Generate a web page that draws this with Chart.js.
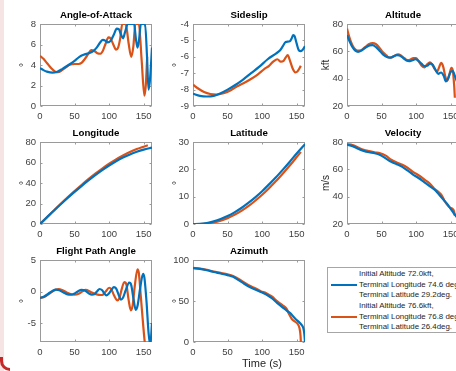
<!DOCTYPE html>
<html lang="en">
<head>
  <meta charset="UTF-8" />
  <title>Trajectory comparison</title>
  <script src="https://cdn.jsdelivr.net/npm/chart.js"></script>
  <style>
    html, body {
      margin: 0;
      padding: 0;
      background: #fff;
      overflow: hidden;
      width: 456px;
      height: 371px;
    }
    body { position: relative; font-family: "Liberation Sans", Arial, sans-serif; }
    canvas { position: absolute; }
    .frame {
      position: absolute; left: 0; top: 0; width: 4px; height: 100%;
      background: #f6e4e4;
    }
    .corner {
      position: absolute; left: 0; bottom: 0; width: 10px; height: 14px;
      border-left: 3px solid #c62828; border-bottom: 3px solid #c62828;
      border-bottom-left-radius: 10px; box-sizing: border-box;
    }
    .legend {
      position: absolute; left: 327px; top: 267px; width: 150px; height: 66px;
      border: 1px solid #a6a6a6; box-sizing: border-box; background: #fff;
      font-size: 7.9px; color: #262626;
    }
    .legend .row { position: absolute; left: 31px; white-space: nowrap; line-height: 10px; }
    .legend .swatch { position: absolute; left: 3px; width: 26px; height: 2px; }
    .xlabel {
      position: absolute; top: 357px; left: 262px; transform: translateX(-50%);
      font-size: 11px; color: #262626; white-space: nowrap;
    }
  </style>
</head>
<body>
  <div class="frame"></div>
  <div class="corner"></div>

  <canvas id="aoa"></canvas>
  <canvas id="beta"></canvas>
  <canvas id="alt"></canvas>
  <canvas id="lon"></canvas>
  <canvas id="lat"></canvas>
  <canvas id="vel"></canvas>
  <canvas id="fpa"></canvas>
  <canvas id="azi"></canvas>

  <div class="xlabel">Time (s)</div>
  <div class="legend" id="legend"></div>

  <script>
    // series names (legend text)
    const nameA = ['Initial Altitude 72.0kft,', 'Terminal Longitude 74.6 deg', 'Terminal Latitude 29.2deg.'];
    const nameB = ['Initial Altitude 76.6kft,', 'Terminal Longitude 76.8 deg', 'Terminal Latitude 26.4deg.'];

    const xTicks = [0, 50, 100, 150];
    const xMax = 162;

    // Angle-of-Attack (deg)
    const aoaTA = [0, 5, 10, 18, 25, 32, 40, 50, 57, 63, 70, 76, 82, 87, 91, 95, 98, 102, 107, 111, 114, 117, 120, 123, 127, 136, 139, 141, 143, 146, 152, 155, 157, 159, 162];
    const aoaVA = [3.7, 3.5, 3.35, 3.25, 3.35, 3.6, 3.95, 4.4, 4.8, 5.0, 5.15, 5.3, 5.7, 6.2, 6.45, 6.35, 6.2, 6.35, 7.0, 7.55, 7.5, 7.0, 6.6, 7.2, 8, 8, 6.4, 5.7, 6.3, 8, 8, 4.5, 1.6, 2.5, 5.7];
    const aoaTB = [0, 5, 10, 16, 22, 26, 32, 38, 44, 50, 56, 60, 65, 70, 74, 78, 83, 87, 91, 95, 99, 102, 106, 110, 113, 116, 119, 124, 128, 132, 135, 138, 143, 147, 151, 153, 155];
    const aoaVB = [4.9, 4.6, 4.2, 3.7, 3.35, 3.3, 3.5, 3.8, 4.05, 4.1, 4.1, 4.2, 4.6, 5.1, 5.45, 5.4, 5.15, 5.1, 5.4, 6.1, 6.7, 6.6, 6.0, 5.5, 5.7, 6.6, 8, 8, 6.2, 4.8, 5.8, 8, 8, 4.5, 1.0, 2.0, 4.8];
    const aoaTicks = [0, 2, 4, 6, 8];

    // Sideslip (deg)
    const betaTA = [0, 10, 20, 30, 40, 50, 60, 72, 84, 96, 108, 120, 126, 130, 134, 140, 143, 145, 147, 150, 153, 156, 159, 162];
    const betaVA = [-8.25, -8.38, -8.42, -8.38, -8.22, -8.0, -7.75, -7.4, -7.0, -6.6, -6.15, -5.8, -5.6, -5.35, -5.1, -5.05, -4.85, -4.68, -4.75, -5.2, -5.6, -5.65, -5.55, -5.35];
    const betaTB = [0, 8, 16, 25, 34, 44, 54, 64, 72, 82, 93, 103, 110, 116, 122, 127, 131, 134, 137, 140, 144, 148, 151, 154, 156];
    const betaVB = [-7.7, -7.95, -8.15, -8.27, -8.3, -8.22, -8.05, -7.8, -7.63, -7.4, -7.1, -6.75, -6.55, -6.3, -6.15, -6.3, -6.25, -6.05, -5.9, -6.2, -6.7, -6.95, -6.9, -6.7, -6.55];
    const betaTicks = [-9, -8, -7, -6, -5, -4];

    // Altitude (kft)
    const altTA = [0, 4, 8, 12, 16, 21, 27, 33, 37, 42, 47, 52, 57, 62, 67, 72, 76, 81, 86, 90, 94, 99, 103, 108, 112, 116, 120, 124, 128, 132, 136, 140, 143, 146, 150, 153, 156, 159, 162];
    const altVA = [72, 67, 63, 60.5, 59.6, 60.5, 62.8, 64.4, 64.5, 63, 60.5, 57.8, 56, 55.4, 56.3, 57.2, 57, 55.2, 53.3, 52.8, 53.4, 54.2, 53.2, 50.8, 49.2, 49.4, 51, 50.2, 46.5, 43.5, 44.5, 42, 38, 40, 45, 45.5, 42, 38, 36];
    const altTB = [0, 3, 6, 10, 15, 20, 26, 32, 37, 42, 47, 52, 57, 61, 65, 70, 74, 78, 83, 87, 91, 96, 100, 104, 108, 112, 116, 120, 123, 127, 130, 133, 136, 139, 142, 145, 148, 151, 153, 155, 156];
    const altVB = [76.6, 71, 66.5, 62.5, 60.6, 60.8, 63, 65.3, 66, 65.2, 62.5, 59.3, 57, 55.5, 55.6, 57.2, 57.8, 57, 55, 53.6, 53.8, 55, 55, 52.5, 49.5, 48.2, 50.5, 52, 50.5, 47, 45, 48, 51.5, 49, 42, 38.5, 43, 48, 46, 35, 26];
    const altTicks = [20, 40, 60, 80];

    // Longitude (deg)
    const lonTA = [0, 10, 20, 30, 40, 50, 60, 70, 80, 90, 100, 110, 120, 130, 140, 150, 162];
    const lonVA = [0, 6.5, 13, 19.3, 25.4, 31.3, 37, 42.5, 47.7, 52.6, 57.1, 61.2, 64.8, 67.9, 70.5, 72.6, 74.6];
    const lonTB = [0, 10, 20, 30, 40, 50, 60, 70, 80, 90, 100, 110, 120, 130, 140, 150, 156];
    const lonVB = [0, 6.6, 13.2, 19.7, 26, 32.1, 38, 43.7, 49.1, 54.1, 58.8, 63.1, 66.9, 70.3, 73.1, 75.4, 76.8];
    const lonTicks = [0, 20, 40, 60, 80];

    // Latitude (deg)
    const latTA = [0, 10, 20, 30, 40, 50, 60, 70, 80, 90, 100, 110, 120, 130, 140, 150, 162];
    const latVA = [0, 0.05, 0.35, 0.95, 1.8, 2.9, 4.25, 5.85, 7.7, 9.75, 12.0, 14.5, 17.1, 19.9, 22.8, 25.8, 29.2];
    const latTB = [0, 10, 20, 30, 40, 50, 60, 70, 80, 90, 100, 110, 120, 130, 140, 150, 156];
    const latVB = [0, 0, 0.2, 0.6, 1.25, 2.15, 3.35, 4.8, 6.5, 8.5, 10.7, 13.1, 15.7, 18.5, 21.4, 24.5, 26.4];
    const latTicks = [0, 10, 20, 30];

    // Velocity (m/s)
    const velTA = [0, 8, 16, 24, 32, 40, 48, 56, 64, 72, 80, 88, 96, 104, 112, 120, 128, 134, 140, 146, 150, 155, 158, 162];
    const velVA = [78, 77, 75, 73.5, 72.5, 71.8, 70.5, 68, 65.5, 63.8, 61.8, 59, 56, 53.5, 50.5, 47.5, 44.5, 41, 37.5, 34, 31, 27.5, 25.5, 23.5];
    const velTB = [0, 8, 16, 24, 32, 40, 48, 56, 64, 72, 80, 88, 96, 104, 112, 120, 126, 132, 137, 141, 145, 149, 152, 155, 156];
    const velVB = [78.5, 77.8, 76, 74.3, 73.3, 72.5, 71.8, 70, 67, 65, 63.3, 61, 58, 55.5, 52.5, 49.5, 46, 43.5, 41, 37, 34, 32, 31.3, 29, 26];
    const velTicks = [20, 40, 60, 80];

    // Flight Path Angle (deg)
    const fpaTA = [0, 6, 12, 18, 23, 28, 34, 40, 45, 50, 55, 60, 65, 70, 75, 79, 83, 86, 90, 93, 96, 99, 103, 107, 110, 114, 117, 120, 124, 129, 132, 135, 138.5, 141, 145, 149, 151, 154, 157, 159.5, 162];
    const fpaVA = [-1, -0.8, -0.35, 0.1, 0.3, 0.2, -0.15, -0.45, -0.5, -0.3, 0.05, 0.25, 0.15, -0.25, -0.5, -0.4, 0.1, 0.4, 0.2, -0.3, -0.6, -0.4, 0.2, 0.7, 0.5, -0.6, -1.3, -1.0, 0.2, 1.4, 1.0, -1.0, -2.9, -2.3, 0.6, 2.8, 2.2, -1.5, -6.5, -8.5, -5];
    const fpaTB = [0, 6, 12, 18, 23, 27, 32, 38, 44, 50, 56, 61, 66, 74, 82, 88, 91, 95, 100, 103, 107, 112, 115, 118, 122, 125, 128, 131.5, 134, 137, 141, 143, 146, 149, 152, 155];
    const fpaVB = [-1, -0.85, -0.45, 0, 0.3, 0.4, 0.25, -0.1, -0.4, -0.5, -0.35, 0, 0.25, -0.1, -0.45, -0.55, -0.5, 0, 0.6, 0.4, -0.6, -1.4, -1.0, 0.3, 1.5, 1.1, -1.2, -3.0, -2.2, 0.8, 3.5, 2.9, -1.0, -5, -8.5, -10];
    const fpaTicks = [-5, 0, 5];

    // Azimuth (deg)
    const aziTA = [0, 10, 20, 30, 40, 50, 58, 66, 74, 82, 90, 98, 106, 114, 122, 130, 136, 141, 145, 149, 153, 157, 159.5, 161, 162];
    const aziVA = [90, 89.2, 87.5, 85.3, 83.5, 81.5, 79.5, 75.5, 71, 67, 64, 61, 58, 53.5, 47.5, 42, 38, 35, 31, 27.5, 24.5, 21, 17, 10, 0];
    const aziTB = [0, 10, 20, 30, 40, 50, 58, 66, 74, 82, 90, 98, 106, 114, 122, 130, 135, 139, 143, 147, 151, 154, 155.5, 156];
    const aziVB = [90.3, 89.5, 88, 86, 84.3, 82.5, 80.5, 77, 72.5, 68.5, 65.5, 62, 59.5, 55.5, 49.5, 44.5, 41, 34, 28, 25, 22.5, 17, 8, 0];
    const aziTicks = [0, 50, 100];

    const BLUE = '#0072BD';
    const ORANGE = '#D95319';
    const FONT = '"Liberation Sans", Arial, Helvetica, sans-serif';

    const colLeft = [40, 193, 347];
    const rowTop = [24, 142, 260];
    const plotW = 113, plotH = 82;
    const yBox = 40, xBox = 30, titleBox = 15, padRight = 4;

    function pts(t, v) {
      return t.map((tt, i) => ({ x: tt, y: v[i] }));
    }

    // axes box + inward tick marks, drawn under the lines
    const boxPlugin = {
      id: 'matlabBox',
      beforeDatasetsDraw(chart) {
        const { ctx, chartArea: a, scales } = chart;
        const l = Math.round(a.left) + 0.5, r = Math.round(a.right) - 0.5;
        const t = Math.round(a.top) + 0.5, b = Math.round(a.bottom) - 0.5;
        ctx.save();
        ctx.strokeStyle = '#9a9a9a';
        ctx.lineWidth = 1;
        ctx.strokeRect(l, t, r - l, b - t);
        ctx.beginPath();
        scales.x.ticks.forEach(tk => {
          const px = Math.round(scales.x.getPixelForValue(tk.value)) + 0.5;
          ctx.moveTo(px, b); ctx.lineTo(px, b - 2);
          ctx.moveTo(px, t); ctx.lineTo(px, t + 2);
        });
        scales.y.ticks.forEach(tk => {
          const py = Math.round(scales.y.getPixelForValue(tk.value)) + 0.5;
          ctx.moveTo(l, py); ctx.lineTo(l + 2, py);
          ctx.moveTo(r, py); ctx.lineTo(r - 2, py);
        });
        ctx.stroke();
        ctx.restore();
      }
    };

    function makeChart(id, col, row, title, yLabel, yMin, yMax, yTicks, tA, vA, tB, vB) {
      const el = document.getElementById(id);
      const W = yBox + plotW + padRight;
      const H = titleBox + plotH + xBox;
      el.width = W;
      el.height = H;
      el.style.left = (colLeft[col] - yBox) + 'px';
      el.style.top = (rowTop[row] - titleBox) + 'px';

      const line = (data, color) => ({
        data: data,
        borderColor: color,
        borderWidth: 2.2,
        pointRadius: 0,
        fill: false,
        cubicInterpolationMode: 'monotone',
        clip: 0
      });

      return new Chart(el, {
        type: 'line',
        data: {
          datasets: [line(pts(tA, vA), BLUE), line(pts(tB, vB), ORANGE)]
        },
        options: {
          responsive: false,
          animation: false,
          layout: { padding: { left: 0, right: padRight, top: 0, bottom: 0 } },
          plugins: {
            legend: { display: false },
            tooltip: { enabled: false }
          },
          scales: {
            x: {
              type: 'linear',
              min: 0,
              max: xMax,
              grid: { display: false, drawTicks: false },
              border: { display: false },
              ticks: { color: '#404040', font: { family: FONT, size: 9.5 }, padding: 5, maxRotation: 0 },
              afterBuildTicks: s => { s.ticks = xTicks.map(v => ({ value: v })); },
              afterFit: s => { s.height = xBox; }
            },
            // top axis only carries the subplot title, centred over the plot area
            top: {
              type: 'linear',
              position: 'top',
              min: 0,
              max: xMax,
              grid: { display: false, drawTicks: false },
              border: { display: false },
              ticks: { display: false },
              afterFit: s => { s.height = titleBox; },
              title: {
                display: true,
                text: title,
                color: '#000',
                font: { family: FONT, size: 9.7, weight: 'bold', lineHeight: '12px' },
                padding: { top: 0, bottom: 0 }
              }
            },
            y: {
              type: 'linear',
              min: yMin,
              max: yMax,
              grid: { display: false, drawTicks: false },
              border: { display: false },
              ticks: { color: '#404040', font: { family: FONT, size: 9.5 }, padding: 4 },
              afterBuildTicks: s => { s.ticks = yTicks.map(v => ({ value: v })); },
              afterFit: s => { s.width = yBox; },
              title: {
                display: true,
                text: yLabel,
                color: '#262626',
                font: { family: FONT, size: 10, lineHeight: '12px' },
                padding: { top: yLabel === '°' ? 18 : 13, bottom: 0 }
              }
            }
          }
        },
        plugins: [boxPlugin]
      });
    }

    makeChart('aoa', 0, 0, 'Angle-of-Attack', '°', 0, 8, aoaTicks, aoaTA, aoaVA, aoaTB, aoaVB);
    makeChart('beta', 1, 0, 'Sideslip', '°', -9, -4, betaTicks, betaTA, betaVA, betaTB, betaVB);
    makeChart('alt', 2, 0, 'Altitude', 'kft', 20, 80, altTicks, altTA, altVA, altTB, altVB);
    makeChart('lon', 0, 1, 'Longitude', '°', 0, 80, lonTicks, lonTA, lonVA, lonTB, lonVB);
    makeChart('lat', 1, 1, 'Latitude', '°', 0, 30, latTicks, latTA, latVA, latTB, latVB);
    makeChart('vel', 2, 1, 'Velocity', 'm/s', 20, 80, velTicks, velTA, velVA, velTB, velVB);
    makeChart('fpa', 0, 2, 'Flight Path Angle', '°', -8, 5, fpaTicks, fpaTA, fpaVA, fpaTB, fpaVB);
    makeChart('azi', 1, 2, 'Azimuth', '°', 0, 100, aziTicks, aziTA, aziVA, aziTB, aziVB);

    // legend box in the ninth slot
    const legend = document.getElementById('legend');
    [[nameA, BLUE, 0], [nameB, ORANGE, 32]].forEach(([lines, color, off]) => {
      lines.forEach((txt, i) => {
        const d = document.createElement('div');
        d.className = 'row';
        d.style.top = (off + 1 + i * 10.6) + 'px';
        d.textContent = txt;
        legend.appendChild(d);
      });
      const s = document.createElement('div');
      s.className = 'swatch';
      s.style.top = (off + 15.5) + 'px';
      s.style.background = color;
      legend.appendChild(s);
    });
  </script>
</body>
</html>
